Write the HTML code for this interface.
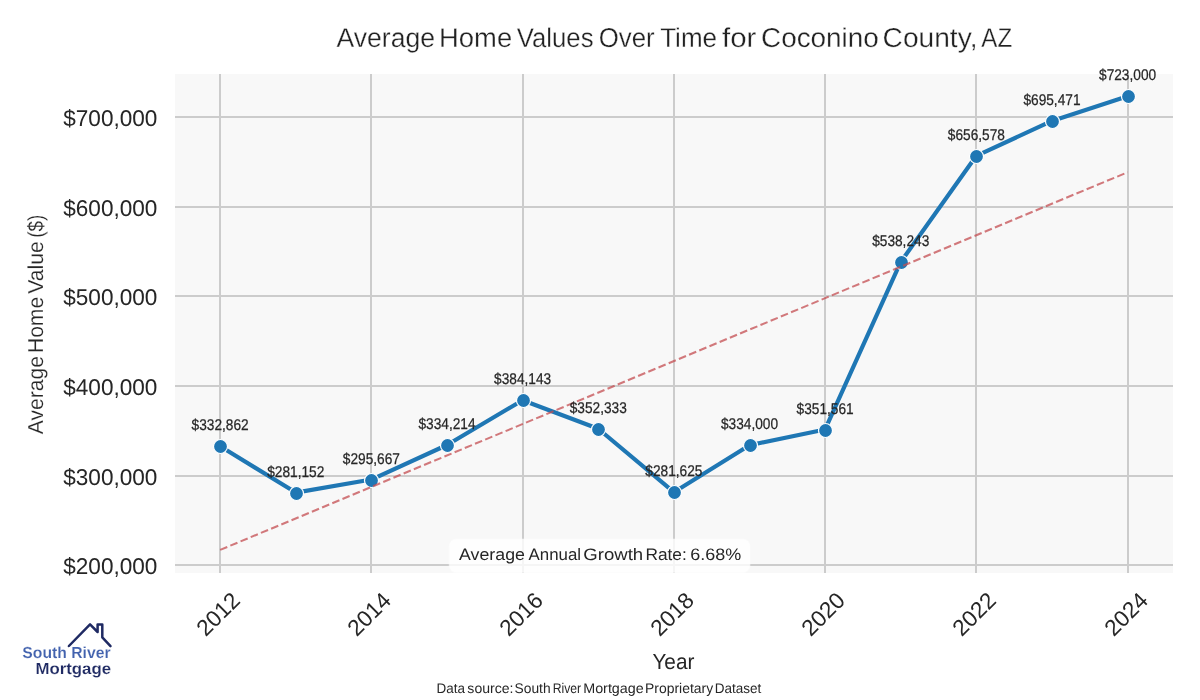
<!DOCTYPE html>
<html><head><meta charset="utf-8"><title>Average Home Values Over Time for Coconino County, AZ</title>
<style>html,body{margin:0;padding:0;background:#fff;overflow:hidden;}svg{display:block;}text{font-family:"Liberation Sans", sans-serif;text-rendering:geometricPrecision;}</style></head>
<body><svg width="1200" height="700" viewBox="0 0 1200 700">
<rect width="1200" height="700" fill="#fff"/>
<rect x="175" y="74" width="998" height="499" fill="#f8f8f8"/>
<rect x="219" y="74" width="2" height="499" fill="#cccccc"/>
<rect x="370" y="74" width="2" height="499" fill="#cccccc"/>
<rect x="522" y="74" width="2" height="499" fill="#cccccc"/>
<rect x="673" y="74" width="2" height="499" fill="#cccccc"/>
<rect x="824" y="74" width="2" height="499" fill="#cccccc"/>
<rect x="975" y="74" width="2" height="499" fill="#cccccc"/>
<rect x="1127" y="74" width="2" height="499" fill="#cccccc"/>
<rect x="175" y="116" width="998" height="2" fill="#cccccc"/>
<rect x="175" y="206" width="998" height="2" fill="#cccccc"/>
<rect x="175" y="295" width="998" height="2" fill="#cccccc"/>
<rect x="175" y="385" width="998" height="2" fill="#cccccc"/>
<rect x="175" y="475" width="998" height="2" fill="#cccccc"/>
<rect x="175" y="564" width="998" height="2" fill="#cccccc"/>
<polyline points="220.15,446.20 295.77,492.59 371.39,479.57 447.01,444.99 522.63,400.20 598.25,428.74 673.87,492.16 749.49,445.18 825.11,429.43 900.73,261.98 976.35,155.83 1051.97,120.94 1127.59,96.25" fill="none" stroke="#1f77b4" stroke-width="4.17" stroke-linejoin="round"/>
<circle cx="220.5" cy="446.5" r="7.0" fill="#1f77b4" stroke="#fff" stroke-width="1.2"/>
<circle cx="296.5" cy="493.5" r="7.0" fill="#1f77b4" stroke="#fff" stroke-width="1.2"/>
<circle cx="371.5" cy="480.5" r="7.0" fill="#1f77b4" stroke="#fff" stroke-width="1.2"/>
<circle cx="447.5" cy="445.5" r="7.0" fill="#1f77b4" stroke="#fff" stroke-width="1.2"/>
<circle cx="523.5" cy="400.5" r="7.0" fill="#1f77b4" stroke="#fff" stroke-width="1.2"/>
<circle cx="598.5" cy="429.5" r="7.0" fill="#1f77b4" stroke="#fff" stroke-width="1.2"/>
<circle cx="674.5" cy="492.5" r="7.0" fill="#1f77b4" stroke="#fff" stroke-width="1.2"/>
<circle cx="750.5" cy="445.5" r="7.0" fill="#1f77b4" stroke="#fff" stroke-width="1.2"/>
<circle cx="825.5" cy="430.5" r="7.0" fill="#1f77b4" stroke="#fff" stroke-width="1.2"/>
<circle cx="901.5" cy="262.5" r="7.0" fill="#1f77b4" stroke="#fff" stroke-width="1.2"/>
<circle cx="976.5" cy="156.5" r="7.0" fill="#1f77b4" stroke="#fff" stroke-width="1.2"/>
<circle cx="1052.5" cy="121.5" r="7.0" fill="#1f77b4" stroke="#fff" stroke-width="1.2"/>
<circle cx="1128.5" cy="96.5" r="7.0" fill="#1f77b4" stroke="#fff" stroke-width="1.2"/>
<line x1="220.15" y1="549.88" x2="1127.59" y2="172.28" stroke="#c44e52" stroke-opacity="0.75" stroke-width="2.08" stroke-dasharray="7.7083 3.3333"/>
<rect x="449.4" y="539.2" width="300.4" height="33.2" rx="7" fill="#fff" fill-opacity="0.8" stroke="#fff" stroke-opacity="0.4" stroke-width="1.5"/>
<text x="63.28" y="573.70" font-size="22.9" textLength="94.06" lengthAdjust="spacingAndGlyphs" fill="#262626">$200,000</text>
<text x="63.28" y="484.70" font-size="22.9" textLength="94.06" lengthAdjust="spacingAndGlyphs" fill="#262626">$300,000</text>
<text x="63.28" y="394.70" font-size="22.9" textLength="94.06" lengthAdjust="spacingAndGlyphs" fill="#262626">$400,000</text>
<text x="63.28" y="304.70" font-size="22.9" textLength="94.06" lengthAdjust="spacingAndGlyphs" fill="#262626">$500,000</text>
<text x="63.28" y="215.70" font-size="22.9" textLength="94.06" lengthAdjust="spacingAndGlyphs" fill="#262626">$600,000</text>
<text x="63.28" y="125.70" font-size="22.9" textLength="94.06" lengthAdjust="spacingAndGlyphs" fill="#262626">$700,000</text>
<text x="220.15" y="430.30" text-anchor="middle" font-size="15.5" textLength="57.1" lengthAdjust="spacingAndGlyphs" fill="#262626" stroke="#262626" stroke-width="0.25">$332,862</text>
<text x="295.77" y="476.69" text-anchor="middle" font-size="15.5" textLength="57.1" lengthAdjust="spacingAndGlyphs" fill="#262626" stroke="#262626" stroke-width="0.25">$281,152</text>
<text x="371.39" y="463.67" text-anchor="middle" font-size="15.5" textLength="57.1" lengthAdjust="spacingAndGlyphs" fill="#262626" stroke="#262626" stroke-width="0.25">$295,667</text>
<text x="447.01" y="429.09" text-anchor="middle" font-size="15.5" textLength="57.1" lengthAdjust="spacingAndGlyphs" fill="#262626" stroke="#262626" stroke-width="0.25">$334,214</text>
<text x="522.63" y="384.30" text-anchor="middle" font-size="15.5" textLength="57.1" lengthAdjust="spacingAndGlyphs" fill="#262626" stroke="#262626" stroke-width="0.25">$384,143</text>
<text x="598.25" y="412.84" text-anchor="middle" font-size="15.5" textLength="57.1" lengthAdjust="spacingAndGlyphs" fill="#262626" stroke="#262626" stroke-width="0.25">$352,333</text>
<text x="673.87" y="476.26" text-anchor="middle" font-size="15.5" textLength="57.1" lengthAdjust="spacingAndGlyphs" fill="#262626" stroke="#262626" stroke-width="0.25">$281,625</text>
<text x="749.49" y="429.28" text-anchor="middle" font-size="15.5" textLength="57.1" lengthAdjust="spacingAndGlyphs" fill="#262626" stroke="#262626" stroke-width="0.25">$334,000</text>
<text x="825.11" y="413.53" text-anchor="middle" font-size="15.5" textLength="57.1" lengthAdjust="spacingAndGlyphs" fill="#262626" stroke="#262626" stroke-width="0.25">$351,561</text>
<text x="900.73" y="246.08" text-anchor="middle" font-size="15.5" textLength="57.1" lengthAdjust="spacingAndGlyphs" fill="#262626" stroke="#262626" stroke-width="0.25">$538,243</text>
<text x="976.35" y="139.93" text-anchor="middle" font-size="15.5" textLength="57.1" lengthAdjust="spacingAndGlyphs" fill="#262626" stroke="#262626" stroke-width="0.25">$656,578</text>
<text x="1051.97" y="105.04" text-anchor="middle" font-size="15.5" textLength="57.1" lengthAdjust="spacingAndGlyphs" fill="#262626" stroke="#262626" stroke-width="0.25">$695,471</text>
<text x="1127.59" y="80.35" text-anchor="middle" font-size="15.5" textLength="57.1" lengthAdjust="spacingAndGlyphs" fill="#262626" stroke="#262626" stroke-width="0.25">$723,000</text>
<text x="652.40" y="668.90" font-size="21.8" textLength="41.97" lengthAdjust="spacingAndGlyphs" fill="#262626">Year</text>
<text x="22.36" y="658.40" font-size="16" font-weight="bold" textLength="88.19" lengthAdjust="spacingAndGlyphs" fill="#4262ae" stroke="#fff" stroke-width="0.15">South River</text>
<text x="35.48" y="674.30" font-size="16" font-weight="bold" textLength="75.54" lengthAdjust="spacingAndGlyphs" fill="#1f2a63" stroke="#fff" stroke-width="0.15">Mortgage</text>
<text y="46.75" font-size="27.25" fill="#222222" stroke="#fff" stroke-width="0.3"><tspan x="336.52" textLength="98.46" lengthAdjust="spacingAndGlyphs">Average</tspan> <tspan x="439.11" textLength="73.02" lengthAdjust="spacingAndGlyphs">Home</tspan> <tspan x="516.79" textLength="76.74" lengthAdjust="spacingAndGlyphs">Values</tspan> <tspan x="598.77" textLength="55.94" lengthAdjust="spacingAndGlyphs">Over</tspan> <tspan x="660.16" textLength="56.90" lengthAdjust="spacingAndGlyphs">Time</tspan> <tspan x="722.12" textLength="34.30" lengthAdjust="spacingAndGlyphs">for</tspan> <tspan x="761.05" textLength="117.70" lengthAdjust="spacingAndGlyphs">Coconino</tspan> <tspan x="882.64" textLength="94.82" lengthAdjust="spacingAndGlyphs">County,</tspan> <tspan x="981.37" textLength="30.85" lengthAdjust="spacingAndGlyphs">AZ</tspan></text>
<text y="559.60" font-size="16.6" fill="#262626"><tspan x="459.11" textLength="65.77" lengthAdjust="spacingAndGlyphs">Average</tspan> <tspan x="528.62" textLength="52.42" lengthAdjust="spacingAndGlyphs">Annual</tspan> <tspan x="583.33" textLength="59.84" lengthAdjust="spacingAndGlyphs">Growth</tspan> <tspan x="645.44" textLength="41.29" lengthAdjust="spacingAndGlyphs">Rate:</tspan> <tspan x="690.22" textLength="51.02" lengthAdjust="spacingAndGlyphs">6.68%</tspan></text>
<text y="692.80" font-size="14" fill="#262626"><tspan x="436.58" textLength="28.39" lengthAdjust="spacingAndGlyphs">Data</tspan> <tspan x="467.38" textLength="46.15" lengthAdjust="spacingAndGlyphs">source:</tspan> <tspan x="514.51" textLength="36.09" lengthAdjust="spacingAndGlyphs">South</tspan> <tspan x="552.69" textLength="28.41" lengthAdjust="spacingAndGlyphs">River</tspan> <tspan x="583.23" textLength="60.54" lengthAdjust="spacingAndGlyphs">Mortgage</tspan> <tspan x="645.03" textLength="68.09" lengthAdjust="spacingAndGlyphs">Proprietary</tspan> <tspan x="714.64" textLength="46.53" lengthAdjust="spacingAndGlyphs">Dataset</tspan></text>
<text transform="translate(43,0) rotate(-90)" font-size="21.66" fill="#262626" stroke="#fff" stroke-width="0.18"><tspan x="-434.22" textLength="78.21" lengthAdjust="spacingAndGlyphs">Average</tspan> <tspan x="-353.07" textLength="56.19" lengthAdjust="spacingAndGlyphs">Home</tspan> <tspan x="-293.69" textLength="52.44" lengthAdjust="spacingAndGlyphs">Value</tspan> <tspan x="-237.85" textLength="23.04" lengthAdjust="spacingAndGlyphs">($)</tspan></text>
<text transform="translate(218.00,613.95) rotate(-45)" text-anchor="middle" dy="0.35em" font-size="22.6" fill="#262626">2012</text>
<text transform="translate(369.00,613.95) rotate(-45)" text-anchor="middle" dy="0.35em" font-size="22.6" fill="#262626">2014</text>
<text transform="translate(521.00,613.95) rotate(-45)" text-anchor="middle" dy="0.35em" font-size="22.6" fill="#262626">2016</text>
<text transform="translate(672.00,613.95) rotate(-45)" text-anchor="middle" dy="0.35em" font-size="22.6" fill="#262626">2018</text>
<text transform="translate(823.00,613.95) rotate(-45)" text-anchor="middle" dy="0.35em" font-size="22.6" fill="#262626">2020</text>
<text transform="translate(974.00,613.95) rotate(-45)" text-anchor="middle" dy="0.35em" font-size="22.6" fill="#262626">2022</text>
<text transform="translate(1126.00,613.95) rotate(-45)" text-anchor="middle" dy="0.35em" font-size="22.6" fill="#262626">2024</text>
<polyline points="68.9,646 90.05,624.4 97.6,632 97.6,624.4 102.3,624.4 102.3,637.3 110.5,646.2" fill="none" stroke="#1f2a63" stroke-width="2.5" stroke-linecap="round" stroke-linejoin="round"/>
</svg></body></html>
